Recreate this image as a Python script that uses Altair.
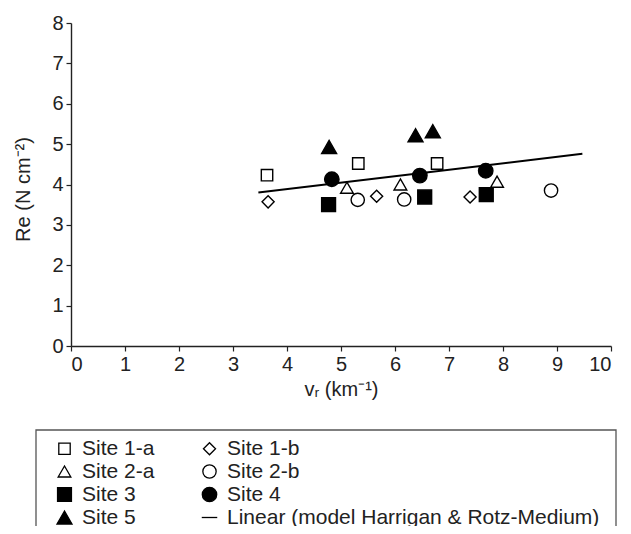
import altair as alt
import pandas as pd

# ---- data ----
series_names = ["Site 1-a", "Site 1-b", "Site 2-a", "Site 2-b",
                "Site 3", "Site 4", "Site 5",
                "Linear (model Harrigan & Rotz-Medium)"]

site1a_x = [3.63, 5.32, 6.78]
site1a_y = [4.23, 4.52, 4.52]
site1b_x = [3.65, 5.66, 7.39]
site1b_y = [3.57, 3.71, 3.69]
site2a_x = [5.11, 6.10, 7.89]
site2a_y = [3.92, 4.00, 4.07]
site2b_x = [5.31, 6.17, 8.89]
site2b_y = [3.62, 3.63, 3.85]
site3_x = [4.77, 6.55, 7.69]
site3_y = [3.50, 3.69, 3.75]
site4_x = [4.83, 6.46, 7.68]
site4_y = [4.13, 4.22, 4.34]
site5_x = [4.78, 6.38, 6.70]
site5_y = [4.93, 5.22, 5.32]

line_x = [3.47, 9.47]
line_y = [3.80, 4.76]

x_ticks = list(range(0, 11))
y_ticks = list(range(0, 9))

# ---- build tables ----
site_data = [
    ("Site 1-a", site1a_x, site1a_y),
    ("Site 1-b", site1b_x, site1b_y),
    ("Site 2-a", site2a_x, site2a_y),
    ("Site 2-b", site2b_x, site2b_y),
    ("Site 3", site3_x, site3_y),
    ("Site 4", site4_x, site4_y),
    ("Site 5", site5_x, site5_y),
]
rows = []
for name, xs, ys in site_data:
    for xv, yv in zip(xs, ys):
        rows.append({"series": name, "vr": xv, "re": yv})
pts = pd.DataFrame(rows)
line_df = pd.DataFrame({"vr": line_x, "re": line_y})

shapes = ["square", "diamond", "triangle-up", "circle",
          "square", "circle", "triangle-up", "stroke"]
fills = ["white", "white", "white", "white",
         "black", "black", "black", "black"]
strokes = ["black"] * 8
sizes = [130, 240, 105, 95, 130, 100, 130, 260]

font = "Liberation Sans"
dark = "#222222"

x_enc = alt.X("vr:Q", scale=alt.Scale(domain=[0, 10], nice=False),
              axis=alt.Axis(values=x_ticks, title="vᵣ (km⁻¹)", titlePadding=5))
y_enc = alt.Y("re:Q", scale=alt.Scale(domain=[0, 8], nice=False),
              axis=alt.Axis(values=y_ticks, title="Re (N cm⁻²)", titlePadding=18,
                            titleY=166))

legend = alt.Legend(
    title=None,
    orient="none", legendX=-17, legendY=415,
    direction="horizontal",
    columns=2, columnPadding=44, rowPadding=1,
    labelFont=font, labelFontSize=21, labelColor=dark, labelOffset=7,
    labelLimit=600, padding=0, symbolStrokeWidth=1.3,
)

points = alt.Chart(pts).mark_point(opacity=1, strokeWidth=1.4).encode(
    x=x_enc,
    y=y_enc,
    shape=alt.Shape("series:N", scale=alt.Scale(domain=series_names, range=shapes), legend=legend),
    fill=alt.Fill("series:N", scale=alt.Scale(domain=series_names, range=fills), legend=legend),
    stroke=alt.Stroke("series:N", scale=alt.Scale(domain=series_names, range=strokes), legend=legend),
    size=alt.Size("series:N", scale=alt.Scale(domain=series_names, range=sizes), legend=legend),
)

line = alt.Chart(line_df).mark_line(color="black", strokeWidth=2).encode(
    x=alt.X("vr:Q"), y=alt.Y("re:Q"))

box = alt.Chart(pd.DataFrame({"k": [0]})).mark_rect(
    fill=None, stroke="#555555", strokeWidth=1.3
).encode(
    x=alt.value(-35), x2=alt.value(545), y=alt.value(407), y2=alt.value(540)
)

chart = alt.layer(box, line, points).properties(
    width=540, height=323,
    autosize=alt.AutoSizeParams(type="none"),
    padding={"left": 63, "top": 15, "right": 12, "bottom": 180},
    background="white",
).configure_view(stroke=None).configure_axis(
    grid=False, domainColor=dark, tickColor=dark, domainWidth=1.4, tickWidth=1.2,
    tickSize=5, labelFont=font, labelFontSize=20, labelColor=dark,
    titleFont=font, titleFontSize=20, titleColor=dark, titleFontWeight="normal",
    labelPadding=3,
)

chart.save("out.html", embed_options={"renderer": "svg", "actions": False})
